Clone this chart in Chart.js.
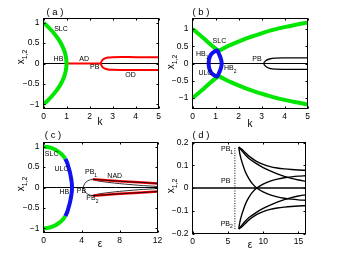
<!DOCTYPE html>
<html>
<head>
<meta charset="utf-8">
<script src="https://cdn.jsdelivr.net/npm/chart.js@4.4.1/dist/chart.umd.min.js"></script>
<style>
  html, body { margin: 0; padding: 0; background: #fff; }
  #wrap { position: relative; width: 338px; height: 260px; }
  canvas { position: absolute; left: 0; top: 0; }
</style>
</head>
<body>
<div id="wrap">
  <canvas id="ca" width="338" height="260"></canvas>
  <canvas id="cb" width="338" height="260"></canvas>
  <canvas id="cc" width="338" height="260"></canvas>
  <canvas id="cd" width="338" height="260"></canvas>
</div>
<script>
// ---- panel (a) ----
var aTicksX = [0, 1, 2, 3, 4, 5];
var aTicksY = [-1, -0.5, 0, 0.5, 1];
var aSlcK = [0, 0.19, 0.36, 0.51, 0.64, 0.75, 0.84, 0.91, 0.96, 0.99, 1.0, 0.99, 0.96, 0.91, 0.84, 0.75, 0.64, 0.51, 0.36, 0.19, 0];
var aSlcX = [1, 0.9, 0.8, 0.7, 0.6, 0.5, 0.4, 0.3, 0.2, 0.1, 0, -0.1, -0.2, -0.3, -0.4, -0.5, -0.6, -0.7, -0.8, -0.9, -1];
var aAdK = [1, 2.5];
var aAdX = [0, 0];
var aOdK = [5, 4, 3.5, 3, 2.8, 2.65, 2.55, 2.5, 2.55, 2.65, 2.8, 3, 3.5, 4, 5];
var aOdX = [0.15, 0.155, 0.157, 0.155, 0.145, 0.12, 0.08, 0, -0.08, -0.12, -0.145, -0.155, -0.16, -0.16, -0.16];
var aZeroK = [0, 5];
var aZeroX = [0, 0];

// ---- panel (b) ----
var bTicksX = [0, 1, 2, 3, 4, 5];
var bTicksY = [-1, -0.5, 0, 0.5, 1];
var bSlc1K = [0, 0.25, 0.5, 0.75, 1.0, 1.15];
var bSlc1X = [1, 0.86, 0.72, 0.57, 0.43, 0.35];
var bSlc2K = [1.05, 1.25, 1.5, 2, 2.5, 3, 3.5, 4, 4.5, 5];
var bSlc2X = [0.34, 0.4, 0.49, 0.63, 0.76, 0.87, 0.97, 1.05, 1.12, 1.18];
var bSlc3X = [-1, -0.86, -0.72, -0.57, -0.43, -0.35];
var bSlc4X = [-0.34, -0.4, -0.49, -0.63, -0.76, -0.87, -0.97, -1.05, -1.12, -1.18];
var bUlcK = [0.7, 0.72, 0.78, 0.88, 1.0, 1.08, 1.17, 1.24, 1.27, 1.24, 1.17, 1.08, 1.0, 0.88, 0.78, 0.72, 0.7];
var bUlcX = [0, 0.12, 0.23, 0.31, 0.36, 0.37, 0.25, 0.12, 0, -0.12, -0.25, -0.37, -0.36, -0.31, -0.23, -0.12, 0];
var bPbK = [5, 4.5, 4, 3.6, 3.35, 3.18, 3.1, 3.18, 3.35, 3.6, 4, 4.5, 5];
var bPbX = [0.16, 0.16, 0.16, 0.155, 0.13, 0.08, 0, -0.08, -0.14, -0.165, -0.17, -0.17, -0.17];
var bZeroK = [0, 5];
var bZeroX = [0, 0];

// ---- panel (c) ----
var cTicksX = [0, 4, 8, 12];
var cTicksY = [-1, -0.5, 0, 0.5, 1];
var cSlcK = [0, 0.4, 0.8, 1.2, 1.6, 2.0, 2.3];
var cSlcUpX = [1, 0.99, 0.97, 0.93, 0.87, 0.79, 0.7];
var cSlcLoX = [-1, -0.99, -0.97, -0.93, -0.87, -0.79, -0.7];
var cUlcK = [2.3, 2.5, 2.65, 2.8, 2.92, 2.98, 3.0, 2.98, 2.92, 2.8, 2.65, 2.5, 2.3];
var cUlcX = [0.7, 0.6, 0.48, 0.35, 0.2, 0.1, 0, -0.1, -0.2, -0.35, -0.48, -0.6, -0.7];
var cPbK = [5.2, 4.7, 4.35, 4.2, 4.35, 4.7, 5.2];
var cPbX = [0.2, 0.17, 0.1, 0, -0.1, -0.17, -0.2];
var cNadK = [5.2, 8, 12];
var cNadUpX = [0.2, 0.155, 0.1];
var cNadLoX = [-0.2, -0.155, -0.1];
var cInK = [5.3, 6, 7, 8, 9, 10, 11, 12];
var cInUpX = [0.18, 0.15, 0.12, 0.095, 0.075, 0.055, 0.04, 0.025];
var cInLoX = [-0.18, -0.15, -0.12, -0.095, -0.075, -0.055, -0.04, -0.025];
var cZeroK = [0, 12];
var cZeroX = [0, 0];

// ---- panel (d) ----
var dTicksX = [0, 5, 10, 15];
var dTicksY = [-0.2, -0.1, 0, 0.1, 0.2];
var dAK = [6.55, 7, 7.5, 8, 9, 10, 11, 12, 13, 14, 15, 16];
var dAUpX = [0.18, 0.17, 0.155, 0.14, 0.118, 0.104, 0.094, 0.088, 0.084, 0.081, 0.079, 0.078];
var dALoX = [-0.18, -0.17, -0.155, -0.14, -0.118, -0.104, -0.094, -0.088, -0.084, -0.081, -0.079, -0.078];
var dBUpX = [0.18, 0.163, 0.145, 0.13, 0.108, 0.09, 0.075, 0.062, 0.051, 0.042, 0.035, 0.03];
var dBLoX = [-0.18, -0.163, -0.145, -0.13, -0.108, -0.09, -0.075, -0.062, -0.051, -0.042, -0.035, -0.03];
var dCK = [6.55, 6.7, 7, 7.5, 8, 8.5, 9.1, 10, 11, 12, 13, 14, 15, 16];
var dCUpX = [0.18, 0.15, 0.115, 0.07, 0.04, 0.018, 0, -0.017, -0.03, -0.039, -0.045, -0.049, -0.052, -0.054];
var dCLoX = [-0.18, -0.15, -0.115, -0.07, -0.04, -0.018, 0, 0.017, 0.03, 0.039, 0.045, 0.049, 0.052, 0.054];
var dDotK = [6, 6];
var dDotX = [-0.18, 0.18];
var dZeroK = [0, 16];
var dZeroX = [0, 0];

var FONT = '"Liberation Sans", Arial, Helvetica, sans-serif';
var GREEN = '#00e600', BLUE = '#1010f0', RED = '#ff0000', BLACK = '#000';

function pts(ks, xs) {
  return ks.map(function(k, i) { return { x: k, y: xs[i] }; });
}

function line(ks, xs, color, width, dash, tension) {
  return {
    data: pts(ks, xs),
    borderColor: color,
    borderWidth: width,
    borderDash: dash || [],
    showLine: true,
    pointRadius: 0,
    tension: tension === undefined ? 0.3 : tension,
    fill: false,
    clip: 0
  };
}

function fmt(v) {
  return String(v).replace('-', '\u2212');
}

function subText(ctx, x, y, main, sub, size) {
  ctx.font = size + 'px ' + FONT;
  var w = ctx.measureText(main).width;
  var x0 = x - w / 2;
  ctx.textAlign = 'left';
  ctx.textBaseline = 'middle';
  ctx.fillText(main, x0, y);
  if (sub) {
    ctx.font = (size - 2) + 'px ' + FONT;
    ctx.fillText(sub, x0 + w, y + 3);
  }
}

function makePanel(id, area, xr, yr, xTicks, yTicks, datasets, deco) {
  var YW = 30, XH = 20;
  var decor = {
    id: 'decor',
    afterDraw: function(chart) {
      var ctx = chart.ctx, ca = chart.chartArea;
      var xs = chart.scales.x, ys = chart.scales.y;
      ctx.save();
      ctx.strokeStyle = '#000';
      ctx.lineWidth = 1;
      ctx.strokeRect(ca.left, ca.top, ca.right - ca.left, ca.bottom - ca.top);
      ctx.beginPath();
      xTicks.forEach(function(v) {
        var p = Math.round(xs.getPixelForValue(v)) + 0.5;
        ctx.moveTo(p, ca.bottom); ctx.lineTo(p, ca.bottom - 2);
        ctx.moveTo(p, ca.top); ctx.lineTo(p, ca.top + 2);
      });
      yTicks.forEach(function(v) {
        var p = Math.round(ys.getPixelForValue(v)) + 0.5;
        ctx.moveTo(ca.left, p); ctx.lineTo(ca.left + 2, p);
        ctx.moveTo(ca.right, p); ctx.lineTo(ca.right - 2, p);
      });
      ctx.stroke();

      ctx.fillStyle = '#000';
      deco.notes.forEach(function(n) {
        subText(ctx, xs.getPixelForValue(n[0]), ys.getPixelForValue(n[1]), n[2], n[3], 7);
      });

      ctx.font = '9.5px ' + FONT;
      ctx.textAlign = 'center';
      ctx.textBaseline = 'middle';
      ctx.fillText(deco.title, deco.tx, deco.ty);

      ctx.font = '10px ' + FONT;
      ctx.fillText(deco.xlab, deco.xlx, deco.xly);

      ctx.translate(deco.ylx, deco.yly);
      ctx.rotate(-Math.PI / 2);
      ctx.textAlign = 'left';
      ctx.textBaseline = 'alphabetic';
      ctx.font = '10px ' + FONT;
      var w = ctx.measureText('x').width;
      ctx.font = '7px ' + FONT;
      var ws = ctx.measureText('1,2').width;
      var x0 = -(w + ws) / 2;
      ctx.font = '10px ' + FONT;
      ctx.fillText('x', x0, 0);
      ctx.font = '7px ' + FONT;
      ctx.fillText('1,2', x0 + w, 3);
      ctx.restore();
    }
  };

  return new Chart(document.getElementById(id), {
    type: 'scatter',
    data: { datasets: datasets },
    plugins: [decor],
    options: {
      responsive: false,
      animation: false,
      events: [],
      layout: {
        padding: {
          left: area.l - YW,
          top: area.t,
          right: 338 - area.r,
          bottom: 260 - area.b - XH
        }
      },
      plugins: { legend: { display: false }, tooltip: { enabled: false } },
      scales: {
        x: {
          type: 'linear', min: xr[0], max: xr[1],
          grid: { display: false, drawTicks: false },
          border: { display: false },
          afterFit: function(s) { s.height = XH; },
          afterBuildTicks: function(s) { s.ticks = xTicks.map(function(v) { return { value: v }; }); },
          ticks: { padding: 3, color: '#000', font: { family: FONT, size: 8.5 }, maxRotation: 0, autoSkip: false, callback: fmt }
        },
        y: {
          type: 'linear', min: yr[0], max: yr[1],
          grid: { display: false, drawTicks: false },
          border: { display: false },
          afterFit: function(s) { s.width = YW; },
          afterBuildTicks: function(s) { s.ticks = yTicks.map(function(v) { return { value: v }; }); },
          ticks: { padding: 4, color: '#000', font: { family: FONT, size: 8.5 }, autoSkip: false, callback: fmt }
        }
      }
    }
  });
}

document.addEventListener('DOMContentLoaded', function() {
  makePanel('ca', { l: 43.5, t: 18.5, r: 158.5, b: 108.5 }, [0, 5], [-1.1, 1.1], aTicksX, aTicksY, [
    line(aSlcK, aSlcX, GREEN, 4),
    line(aAdK, aAdX, RED, 2),
    line(aOdK, aOdX, RED, 2),
    line(aZeroK, aZeroX, BLACK, 1.2)
  ], {
    title: '( a )', tx: 55, ty: 12, xlab: 'k', xlx: 100, xly: 122, ylx: 23.5, yly: 57,
    notes: [[0.76, 0.85, 'SLC'], [0.65, 0.12, 'HB'], [1.77, 0.1, 'AD'], [2.23, -0.085, 'PB'], [3.78, -0.29, 'OD']]
  });

  makePanel('cb', { l: 192.5, t: 18.5, r: 307.5, b: 108.5 }, [0, 5], [-1.3, 1.3], bTicksX, bTicksY, [
    line(bUlcK, bUlcX, BLUE, 4, null, 0.2),
    line(bSlc1K, bSlc1X, GREEN, 4),
    line(bSlc2K, bSlc2X, GREEN, 4),
    line(bSlc1K, bSlc3X, GREEN, 4),
    line(bSlc2K, bSlc4X, GREEN, 4),
    line(bPbK, bPbX, BLACK, 1.3),
    line(bZeroK, bZeroX, BLACK, 1.2)
  ], {
    title: '( b )', tx: 201, ty: 12, xlab: 'k', xlx: 250, xly: 124, ylx: 174, yly: 62,
    notes: [[1.17, 0.66, 'SLC'], [0.36, 0.26, 'HB', '1'], [2.8, 0.14, 'PB'], [0.56, -0.29, 'ULC'], [1.58, -0.14, 'HB', '2']]
  });

  makePanel('cc', { l: 43.5, t: 142.5, r: 157.5, b: 232.5 }, [0, 12], [-1.1, 1.1], cTicksX, cTicksY, [
    line(cNadK, cNadUpX, BLACK, 0.8),
    line(cNadK, cNadLoX, BLACK, 0.8),
    line(cNadK, cNadUpX, RED, 2.5),
    line(cNadK, cNadLoX, RED, 2.5),
    line(cInK, cInUpX, BLACK, 0.8),
    line(cInK, cInLoX, BLACK, 0.8),
    line(cPbK, cPbX, BLACK, 0.8),
    line(cUlcK, cUlcX, BLUE, 4),
    line(cSlcK, cSlcUpX, GREEN, 4),
    line(cSlcK, cSlcLoX, GREEN, 4),
    line(cZeroK, cZeroX, BLACK, 1)
  ], {
    title: '( c )', tx: 53, ty: 135, xlab: '\u03b5', xlx: 100, xly: 244, ylx: 23.5, yly: 184,
    notes: [[0.86, 0.81, 'SLC'], [1.9, 0.45, 'ULC'], [2.2, -0.11, 'HB'], [4.0, -0.09, 'PB'], [4.86, 0.37, 'PB', '1'], [7.5, 0.28, 'NAD'], [5.0, -0.26, 'PB', '2']]
  });

  makePanel('cd', { l: 192.5, t: 142.5, r: 305.5, b: 233.5 }, [0, 16], [-0.2, 0.2], dTicksX, dTicksY, [
    line(dAK, dAUpX, BLACK, 1.4),
    line(dAK, dALoX, BLACK, 1.4),
    line(dAK, dBUpX, BLACK, 1.4),
    line(dAK, dBLoX, BLACK, 1.4),
    line(dCK, dCUpX, BLACK, 1.4),
    line(dCK, dCLoX, BLACK, 1.4),
    line(dDotK, dDotX, BLACK, 1, [1, 1.5]),
    line(dZeroK, dZeroX, BLACK, 1.3)
  ], {
    title: '( d )', tx: 201, ty: 135, xlab: '\u03b5', xlx: 250, xly: 245, ylx: 174, yly: 186,
    notes: [[4.7, 0.17, 'PB', '1'], [4.7, 0.03, 'PB'], [4.65, -0.157, 'PB', '2']]
  });
});
</script>
</body>
</html>
